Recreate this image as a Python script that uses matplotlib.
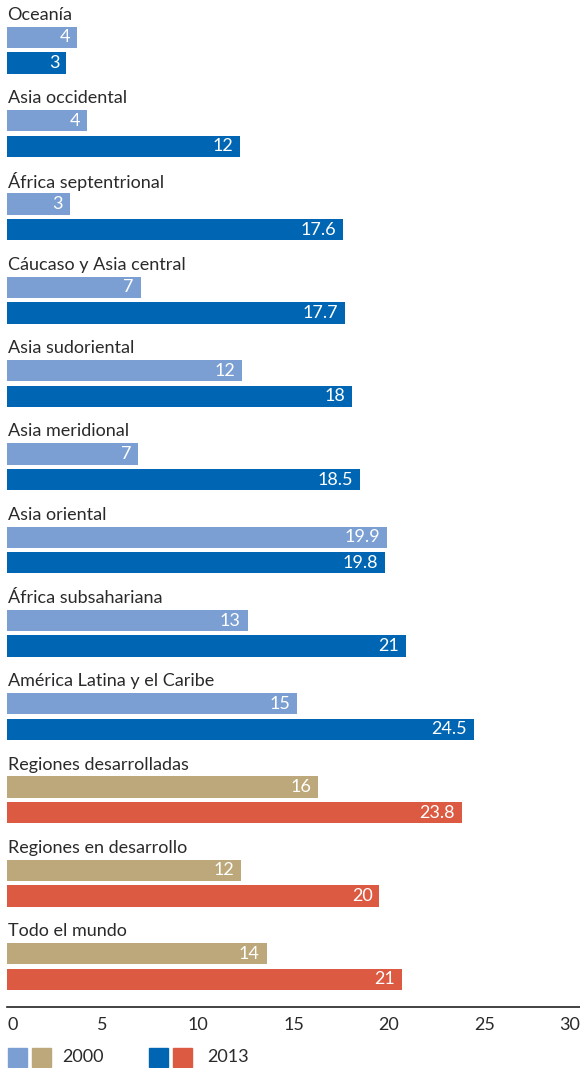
import matplotlib.pyplot as plt
from matplotlib.patches import Rectangle

# regions, top to bottom
regions = ["Oceanía", "Asia occidental", "África septentrional",
           "Cáucaso y Asia central", "Asia sudoriental", "Asia meridional",
           "Asia oriental", "África subsahariana", "América Latina y el Caribe",
           "Regiones desarrolladas", "Regiones en desarrollo", "Todo el mundo"]
# bar lengths (estimated) and printed labels
vals_2000 = [3.66, 4.2, 3.3, 7.0, 12.3, 6.86, 19.9, 12.6, 15.2, 16.3, 12.25, 13.6]
vals_2013 = [3.1, 12.2, 17.6, 17.7, 18.05, 18.5, 19.8, 20.9, 24.45, 23.8, 19.5, 20.7]
labels_2000 = ["4", "4", "3", "7", "12", "7", "19.9", "13", "15", "16", "12", "14"]
labels_2013 = ["3", "12", "17.6", "17.7", "18", "18.5", "19.8", "21", "24.5", "23.8", "20", "21"]
aggregate = [False] * 9 + [True] * 3
xticks = [0, 5, 10, 15, 20, 25, 30]

c2000_reg, c2013_reg = "#7b9fd3", "#0066b3"
c2000_agg, c2013_agg = "#bca87a", "#dc5a42"
txt = "#2a2a2a"
fs = 13
plt.rcParams['font.family'] = ['Lato', 'DejaVu Sans']

fig = plt.figure(figsize=(5.8, 10.68), dpi=100)
ax = fig.add_axes([7 / 580, 1 - 1007 / 1068, 573 / 580, 1007 / 1068])

h = 0.255
off = 0.307
for i, name in enumerate(regions):
    ca = c2000_agg if aggregate[i] else c2000_reg
    cb = c2013_agg if aggregate[i] else c2013_reg
    ax.barh(i, vals_2000[i], height=h, color=ca, align='center')
    ax.barh(i + off, vals_2013[i], height=h, color=cb, align='center')
    ax.text(0.03, i - 0.27, name, ha='left', va='center', fontsize=fs,
            color=txt)
    ax.annotate(labels_2000[i], (vals_2000[i], i), xytext=(-5, 0),
                textcoords='offset points', ha='right', va='center',
                color='white', fontsize=fs)
    ax.annotate(labels_2013[i], (vals_2013[i], i + off), xytext=(-5, 0),
                textcoords='offset points', ha='right', va='center',
                color='white', fontsize=fs)

ax.set_xlim(0, 30)
ax.set_ylim(11.64, -0.45)
for s in ['top', 'right', 'left']:
    ax.spines[s].set_visible(False)
ax.spines['bottom'].set_color('#222222')
ax.spines['bottom'].set_linewidth(1.2)
ax.set_yticks([])
ax.set_xticks(xticks)
ax.set_xticklabels([str(t) for t in xticks], fontsize=fs, color=txt)
ax.tick_params(axis='x', length=0, pad=7)
tl = ax.get_xticklabels()
tl[0].set_ha('left')
tl[-1].set_ha('right')

# legend
W, H = 580, 1068
def sq(x, color):
    fig.add_artist(Rectangle((x / W, 1 - 1067 / H), 19 / W, 19 / H,
                             transform=fig.transFigure, color=color))
sq(8, c2000_reg)
sq(32, c2000_agg)
sq(149, c2013_reg)
sq(173, c2013_agg)
fig.text(62 / W, 1 - 1057 / H, "2000", ha='left', va='center', fontsize=fs,
         color=txt)
fig.text(207 / W, 1 - 1057 / H, "2013", ha='left', va='center', fontsize=fs,
         color=txt)

fig.savefig("out.png", dpi=100)
